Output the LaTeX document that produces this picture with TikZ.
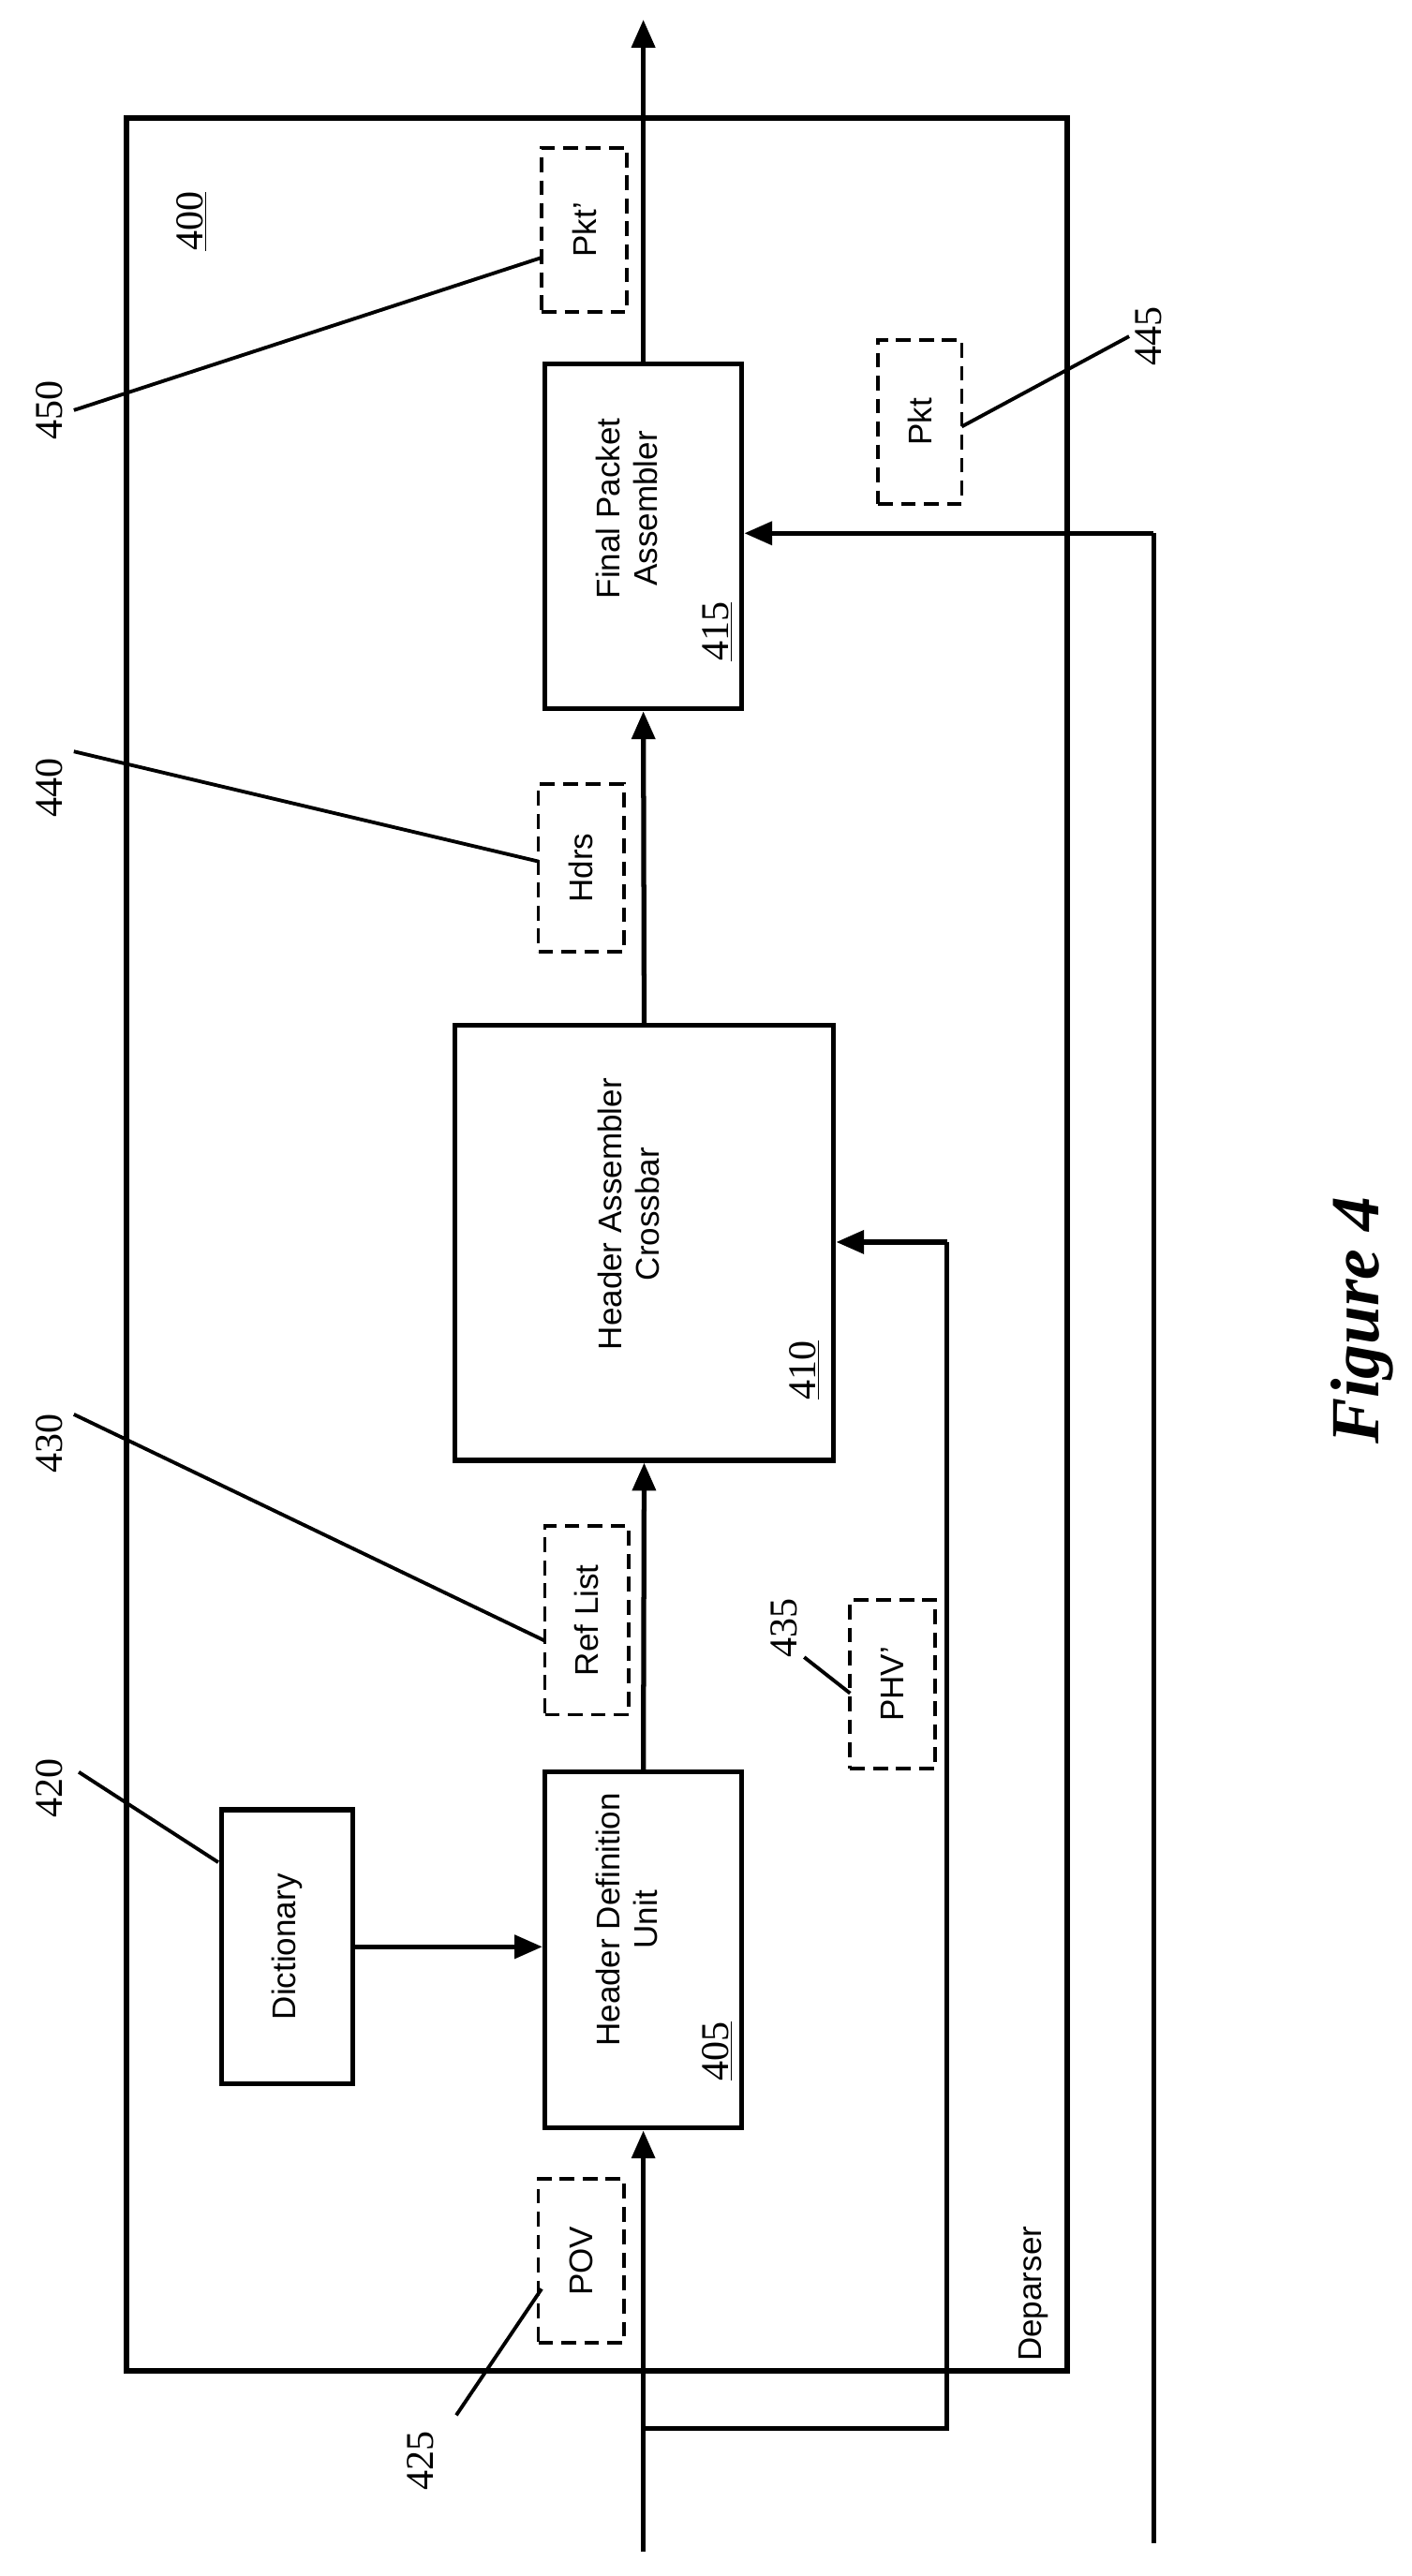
\documentclass[tikz,border=0pt]{standalone}
\usepackage{fontspec}
\setmainfont{Liberation Serif}
\setsansfont{Liberation Sans}
\usetikzlibrary{arrows.meta}
\begin{document}
\begin{tikzpicture}[x=1pt,y=-1pt,
  tx/.style={rotate=90,font=\sffamily\fontsize{20}{23}\selectfont,align=center},
  box/.style={draw,line width=3pt},
  dbox/.style={draw,line width=2.2pt,dash pattern=on 9pt off 5pt},
  ar/.style={line width=3pt,-{Triangle[length=17pt,width=14pt]}},
  ln/.style={line width=3pt},
  ld/.style={line width=2.2pt},
  num/.style={font=\fontsize{24}{26}\selectfont,rotate=90}]
\useasboundingbox (0,0) rectangle (860,1570);
\draw[line width=3.4pt] (77,72) rectangle (650,1445);
\node[num] (n400) at (117,135) {\underline{400}};
\node[tx] (dep) at (630,1398) {Deparser};
% boxes
\node[box,minimum width=120pt,minimum height=217pt] (hdu) at (392,1188.5) {};
\node[tx] (hdut) at (382,1170) {Header Definition\\Unit};
\node[num] (n405) at (437,1250) {\underline{405}};
\node[box,minimum width=80pt,minimum height=167pt] (dict) at (175,1186.5) {};
\node[tx] (dictt) at (175,1186.5) {Dictionary};
\node[box,minimum width=231pt,minimum height=265pt] (hac) at (392.5,757.5) {};
\node[tx] (hact) at (383,740) {Header Assembler\\Crossbar};
\node[num] (n410) at (490,835) {\underline{410}};
\node[box,minimum width=120pt,minimum height=210pt] (fpa) at (392,327) {};
\node[tx] (fpat) at (382,310) {Final Packet\\Assembler};
\node[num] (n415) at (437,385) {\underline{415}};
% dashed
\node[dbox,minimum width=52pt,minimum height=100pt] (pov) at (354,1378) {};
\node[tx] at (pov) {POV};
\node[dbox,minimum width=51pt,minimum height=115pt] (ref) at (357.5,987.5) {};
\node[tx] at (ref) {Ref List};
\node[dbox,minimum width=52pt,minimum height=103pt] (phv) at (544,1026.5) {};
\node[tx] at (phv) {PHV’};
\node[dbox,minimum width=52pt,minimum height=102pt] (hdrs) at (354,529) {};
\node[tx] at (hdrs) {Hdrs};
\node[dbox,minimum width=52pt,minimum height=100pt] (pktp) at (356,140) {};
\node[tx] at (pktp) {Pkt’};
\node[dbox,minimum width=51pt,minimum height=100pt] (pkt) at (560.5,257) {};
\node[tx] at (pkt) {Pkt};
% connectors
\coordinate (in1) at (392,1555);
\coordinate (br) at (392,1480);
\coordinate (top) at (392,12);
\coordinate (in2) at (703,1550);
\draw[ar] (in1) -- (hdu.south);
\draw[ln] (br) -- (577,1480) -- (577,757);
\draw[ar] (577,757) -- (hac.east |- 0,757);
\draw[ar] (hdu.north) -- (hac.south);
\draw[ar] (hac.north) -- (fpa.south);
\draw[ar] (fpa.north) -- (top);
\draw[ar] (dict.east) -- (hdu.west |- dict.east);
\draw[ln] (in2) -- (703,325);
\draw[ar] (703,325) -- (fpa.east |- 0,325);
% reference labels
\node[num] (n425) at (256,1500) {425};
\draw[ld] (278,1472) -- (330,1395);
\node[num] (n420) at (30,1090) {420};
\draw[ld] (48,1080) -- (133,1135);
\node[num] (n430) at (30,880) {430};
\draw[ld] (45,862) -- (332,1000);
\node[num] (n435) at (478,992) {435};
\draw[ld] (490,1010) -- (518,1032);
\node[num] (n440) at (30,480) {440};
\draw[ld] (45,458) -- (328,525);
\node[num] (n450) at (30,250) {450};
\draw[ld] (45,250) -- (330,157);
\node[num] (n445) at (700,205) {445};
\draw[ld] (688,205) -- (586,260);
\node[rotate=90,font=\bfseries\itshape\fontsize{42}{46}\selectfont] (fig) at (830,805) {Figure 4};
\end{tikzpicture}
\end{document}
